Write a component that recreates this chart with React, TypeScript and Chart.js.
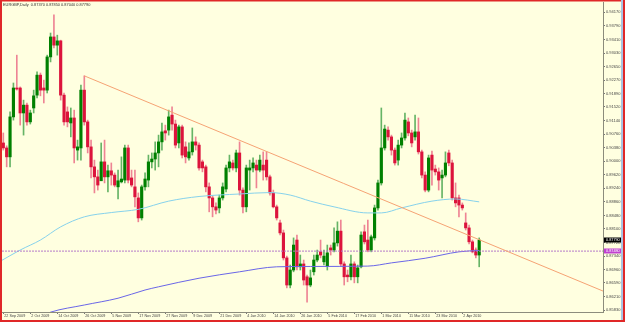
import React, { useEffect, useRef } from 'react';
import { Chart, registerables } from 'chart.js';
Chart.register(...registerables);

const symbolTitle = 'EURGBP,Daily';

const xTickLabels = ['22 Sep 2009', '2 Oct 2009', '14 Oct 2009', '26 Oct 2009', '5 Nov 2009', '17 Nov 2009', '27 Nov 2009', '9 Dec 2009', '21 Dec 2009', '4 Jan 2010', '14 Jan 2010', '26 Jan 2010', '5 Feb 2010', '17 Feb 2010', '1 Mar 2010', '11 Mar 2010', '23 Mar 2010', '2 Apr 2010'];
const xTickBars = [0, 8, 16, 24, 32, 40, 48, 56, 64, 72, 80, 88, 96, 104, 112, 120, 128, 136];

const yTickLabels = ['0.94170', '0.93790', '0.93410', '0.93030', '0.92650', '0.92270', '0.91890', '0.91520', '0.91140', '0.90760', '0.90380', '0.90000', '0.89620', '0.89240', '0.88860', '0.88480', '0.88100', '0.87720', '0.87340', '0.86960', '0.86590', '0.86210', '0.85830'];

const opens = [
  0.9051, 0.9037, 0.9012, 0.9124, 0.9205, 0.9205, 0.9135, 0.9157, 0.9110, 0.9149,
  0.9185, 0.9241, 0.9205, 0.9199, 0.9292, 0.9348, 0.9325, 0.9337, 0.9185, 0.9138,
  0.9107, 0.9121, 0.9031, 0.9037, 0.9199, 0.9110, 0.9040, 0.8984, 0.8956, 0.8945,
  0.8998, 0.8956, 0.8973, 0.8961, 0.8928, 0.8942, 0.8947, 0.9037, 0.8953, 0.8928,
  0.8897, 0.8841, 0.8928, 0.8947, 0.8998, 0.9006, 0.9023, 0.9054, 0.9085, 0.9087,
  0.9129, 0.9104, 0.9051, 0.9096, 0.9040, 0.9009, 0.9026, 0.9054, 0.9045, 0.8998,
  0.8984, 0.8928, 0.8897, 0.8872, 0.8869, 0.8897, 0.8922, 0.8981, 0.8995, 0.8981,
  0.9023, 0.8919, 0.8872, 0.8975, 0.8981, 0.8989, 0.8975, 0.8989, 0.9003, 0.8956,
  0.8911, 0.8872, 0.8827, 0.8799, 0.8729, 0.8653, 0.8695, 0.8779, 0.8704, 0.8712,
  0.8676, 0.8653, 0.8690, 0.8723, 0.8746, 0.8718, 0.8706, 0.8757, 0.8751, 0.8771,
  0.8804, 0.8712, 0.8681, 0.8676, 0.8712, 0.8676, 0.8704, 0.8802, 0.8779, 0.8751,
  0.8785, 0.8869, 0.8939, 0.9037, 0.9087, 0.9068, 0.9031, 0.9003, 0.9045, 0.9065,
  0.9110, 0.9079, 0.9068, 0.9082, 0.9026, 0.8961, 0.8919, 0.9017, 0.8978, 0.8970,
  0.8953, 0.8961, 0.9023, 0.8995, 0.8897, 0.8897, 0.8877, 0.8827, 0.8813, 0.8774,
  0.8751, 0.8737,
];
const highs = [
  0.9079, 0.9043, 0.9138, 0.9219, 0.9297, 0.9208, 0.9171, 0.9163, 0.9143, 0.9199,
  0.9250, 0.9247, 0.9227, 0.9297, 0.9359, 0.9410, 0.9353, 0.9339, 0.9191, 0.9152,
  0.9149, 0.9143, 0.9059, 0.9213, 0.9239, 0.9115, 0.9059, 0.9003, 0.8975, 0.9051,
  0.9059, 0.8989, 0.8995, 0.8967, 0.8975, 0.9012, 0.9045, 0.9045, 0.8975, 0.8975,
  0.8911, 0.8933, 0.8967, 0.9017, 0.9023, 0.9054, 0.9073, 0.9107, 0.9101, 0.9143,
  0.9152, 0.9115, 0.9101, 0.9101, 0.9054, 0.9051, 0.9093, 0.9068, 0.9051, 0.9003,
  0.8989, 0.8939, 0.8903, 0.8883, 0.8905, 0.8939, 0.8989, 0.9017, 0.9003, 0.9031,
  0.9054, 0.8925, 0.8989, 0.9003, 0.9009, 0.9003, 0.9017, 0.9026, 0.9026, 0.8961,
  0.8919, 0.8877, 0.8835, 0.8807, 0.8734, 0.8709, 0.8785, 0.8793, 0.8737, 0.8723,
  0.8681, 0.8695, 0.8737, 0.8751, 0.8779, 0.8751, 0.8765, 0.8765, 0.8813, 0.8830,
  0.8835, 0.8718, 0.8695, 0.8737, 0.8718, 0.8709, 0.8802, 0.8821, 0.8835, 0.8793,
  0.8877, 0.8947, 0.9149, 0.9101, 0.9096, 0.9073, 0.9037, 0.9059, 0.9079, 0.9135,
  0.9121, 0.9087, 0.9129, 0.9121, 0.9031, 0.8970, 0.9017, 0.9028, 0.8989, 0.8981,
  0.8975, 0.9026, 0.9031, 0.9003, 0.8939, 0.8905, 0.8883, 0.8855, 0.8821, 0.8779,
  0.8757, 0.8785,
];
const lows = [
  0.9031, 0.8984, 0.8984, 0.9115, 0.9199, 0.9101, 0.9073, 0.9101, 0.9104, 0.9135,
  0.9177, 0.9183, 0.9163, 0.9191, 0.9278, 0.9317, 0.9297, 0.9171, 0.9101, 0.9096,
  0.9068, 0.8995, 0.9003, 0.9003, 0.9101, 0.9023, 0.8953, 0.8911, 0.8919, 0.8947,
  0.8939, 0.8914, 0.8933, 0.8928, 0.8894, 0.8939, 0.8939, 0.8939, 0.8928, 0.8872,
  0.8830, 0.8835, 0.8919, 0.8928, 0.8981, 0.8975, 0.8984, 0.9031, 0.9059, 0.9073,
  0.9087, 0.9037, 0.9037, 0.9009, 0.8995, 0.9003, 0.9017, 0.9031, 0.8975, 0.8970,
  0.8914, 0.8858, 0.8844, 0.8852, 0.8855, 0.8891, 0.8914, 0.8970, 0.8975, 0.8970,
  0.8905, 0.8855, 0.8858, 0.8919, 0.8970, 0.8925, 0.8970, 0.8947, 0.8947, 0.8905,
  0.8869, 0.8835, 0.8793, 0.8723, 0.8645, 0.8645, 0.8690, 0.8695, 0.8695, 0.8653,
  0.8605, 0.8648, 0.8681, 0.8718, 0.8729, 0.8709, 0.8695, 0.8737, 0.8746, 0.8762,
  0.8706, 0.8653, 0.8662, 0.8667, 0.8659, 0.8659, 0.8701, 0.8768, 0.8746, 0.8746,
  0.8779, 0.8863, 0.8933, 0.9031, 0.9059, 0.9017, 0.8989, 0.8989, 0.9037, 0.9059,
  0.9071, 0.9040, 0.9059, 0.9020, 0.8953, 0.8914, 0.8914, 0.8933, 0.8961, 0.8919,
  0.8897, 0.8956, 0.8987, 0.8891, 0.8872, 0.8844, 0.8863, 0.8807, 0.8768, 0.8743,
  0.8729, 0.8704,
];
const closes = [
  0.9037, 0.9012, 0.9124, 0.9205, 0.9202, 0.9135, 0.9157, 0.9110, 0.9135, 0.9183,
  0.9241, 0.9199, 0.9199, 0.9292, 0.9348, 0.9325, 0.9337, 0.9185, 0.9110, 0.9110,
  0.9121, 0.9037, 0.9040, 0.9199, 0.9110, 0.9040, 0.8984, 0.8956, 0.8933, 0.8998,
  0.8956, 0.8973, 0.8961, 0.8933, 0.8945, 0.8950, 0.9037, 0.8947, 0.8933, 0.8900,
  0.8841, 0.8928, 0.8950, 0.8998, 0.9006, 0.9023, 0.9054, 0.9082, 0.9079, 0.9124,
  0.9104, 0.9045, 0.9096, 0.9017, 0.9012, 0.9026, 0.9054, 0.9045, 0.8981, 0.8981,
  0.8928, 0.8897, 0.8872, 0.8863, 0.8897, 0.8928, 0.8981, 0.8998, 0.8981, 0.9023,
  0.8919, 0.8872, 0.8981, 0.8981, 0.8995, 0.8975, 0.9003, 0.8975, 0.8956, 0.8911,
  0.8872, 0.8841, 0.8799, 0.8729, 0.8653, 0.8695, 0.8765, 0.8704, 0.8712, 0.8667,
  0.8653, 0.8673, 0.8723, 0.8737, 0.8737, 0.8734, 0.8743, 0.8751, 0.8771, 0.8804,
  0.8712, 0.8676, 0.8676, 0.8712, 0.8676, 0.8701, 0.8793, 0.8774, 0.8751, 0.8788,
  0.8869, 0.8939, 0.9037, 0.9090, 0.9068, 0.9031, 0.8995, 0.9045, 0.9065, 0.9115,
  0.9079, 0.9051, 0.9082, 0.9026, 0.8961, 0.8919, 0.9009, 0.8975, 0.8970, 0.8947,
  0.8961, 0.8995, 0.8995, 0.8897, 0.8883, 0.8877, 0.8869, 0.8813, 0.8774, 0.8746,
  0.8737, 0.8779,
];

// light-blue moving average
const maFastBars = [-1, 5, 11, 17, 24, 32, 40, 49, 58, 70, 79, 85, 91, 98, 108, 112, 118, 127, 134, 141];
const maFastValues = [0.8719, 0.8751, 0.8779, 0.8816, 0.8844, 0.8856, 0.8865, 0.8888, 0.8901, 0.8908, 0.8912, 0.8905, 0.8888, 0.8872, 0.8855, 0.8855, 0.8869, 0.8888, 0.8894, 0.8886];
// dark-blue moving average
const maSlowBars = [11, 14, 24, 34, 42, 46, 58, 70, 81, 91, 108, 115, 125, 135, 141];
const maSlowValues = [0.8565, 0.8577, 0.8597, 0.8616, 0.8639, 0.8648, 0.8672, 0.8690, 0.8704, 0.8705, 0.8706, 0.8715, 0.8728, 0.8746, 0.8750];
// trend line
const trendBars = [24, 177.7];
const trendValues = [0.9239, 0.8636];
// horizontal line
const hLineValue = 0.8748;

const X_MIN = -0.385;
const X_MAX = 177.68;
const Y_MIN = 0.85774;
const Y_MAX = 0.94459;

const BG = '#FFFFE0';
const BULL = '#008000';
const BEAR = '#DC143C';
const BULL_WICK = '#66B466';
const BEAR_WICK = '#EE8494';
const FONT = 'Liberation Sans, Arial, sans-serif';

export default function App() {
  const ref = useRef<HTMLCanvasElement>(null);
  useEffect(() => {
    document.body.style.margin = '0';
    const canvas = ref.current!;
    const idx = closes.map((_, i) => i);
    const up = idx.map((i) => closes[i] >= opens[i]);
    const last = closes.length - 1;

    const decorPlugin = {
      id: 'decor',
      beforeDraw(chart: any) {
        const ctx = chart.ctx;
        ctx.save();
        ctx.fillStyle = BG;
        ctx.fillRect(0, 0, chart.width, chart.height);
        ctx.restore();
      },
      afterDraw(chart: any) {
        const ctx = chart.ctx;
        const ys = chart.scales.y;
        const right = chart.chartArea.right;
        ctx.save();
        // price boxes
        const box = (val: number, fill: string, txt: string) => {
          const y = ys.getPixelForValue(val);
          ctx.fillStyle = fill;
          ctx.fillRect(right + 1, Math.round(y) - 2.5, 17, 5);
          ctx.fillStyle = '#ffffff';
          ctx.font = `3.8px ${FONT}`;
          ctx.textBaseline = 'middle';
          ctx.textAlign = 'left';
          ctx.fillText(txt, right + 3, Math.round(y));
        };
        box(closes[last], '#000000', closes[last].toFixed(5));
        box(hLineValue, '#C040D0', hLineValue.toFixed(5));
        // header
        ctx.fillStyle = '#333333';
        ctx.font = `3.9px ${FONT}`;
        ctx.textBaseline = 'middle';
        ctx.textAlign = 'left';
        ctx.fillText(
          `${symbolTitle}  ${opens[last].toFixed(5)} ${highs[last].toFixed(5)} ${lows[last].toFixed(5)} ${closes[last].toFixed(5)}`,
          3, 5
        );
        // frame
        ctx.fillStyle = '#E02828';
        ctx.fillRect(0, 0, chart.width, 1.5);
        ctx.fillRect(0, 0, 2, chart.height);
        ctx.fillRect(0, chart.height - 2, chart.width, 2);
        ctx.fillRect(chart.width - 2, 0, 2, chart.height);
        ctx.fillStyle = '#A8C4E4';
        ctx.fillRect(chart.width - 4, 0, 2, chart.height - 2);
        ctx.restore();
      },
    };

    const chart = new Chart(canvas, {
      type: 'bar',
      data: {
        datasets: [
          {
            type: 'line',
            data: trendBars.map((x, i) => ({ x, y: trendValues[i] })),
            borderColor: '#F6A374',
            borderWidth: 1,
            pointRadius: 0,
            order: 1,
          } as any,
          {
            type: 'line',
            data: [{ x: X_MIN, y: hLineValue }, { x: X_MAX, y: hLineValue }],
            borderColor: '#B47AC8',
            borderWidth: 1,
            borderDash: [2, 1],
            pointRadius: 0,
            order: 1,
          } as any,
          {
            type: 'line',
            data: maFastBars.map((x, i) => ({ x, y: maFastValues[i] })),
            borderColor: '#86D2EC',
            borderWidth: 1,
            pointRadius: 0,
            cubicInterpolationMode: 'monotone',
            order: 2,
          } as any,
          {
            type: 'line',
            data: maSlowBars.map((x, i) => ({ x, y: maSlowValues[i] })),
            borderColor: '#6A66E8',
            borderWidth: 1,
            pointRadius: 0,
            cubicInterpolationMode: 'monotone',
            order: 2,
          } as any,
          {
            type: 'bar',
            data: idx.map((i) => ({ x: i, y: [opens[i], closes[i]] })),
            backgroundColor: up.map((u) => (u ? BULL : BEAR)),
            borderWidth: 0,
            barThickness: 2.5,
            minBarLength: 1,
            grouped: false,
            order: 4,
          } as any,
          {
            type: 'bar',
            data: idx.map((i) => ({ x: i, y: [lows[i], highs[i]] })),
            backgroundColor: up.map((u) => (u ? BULL_WICK : BEAR_WICK)),
            borderWidth: 0,
            barThickness: 1,
            grouped: false,
            order: 5,
          } as any,
        ],
      },
      options: {
        responsive: false,
        animation: false,
        devicePixelRatio: 1,
        events: [],
        layout: { padding: { left: 2, top: 2, right: 0, bottom: 0 }, autoPadding: false },
        plugins: { legend: { display: false }, tooltip: { enabled: false } },
        scales: {
          x: {
            type: 'linear',
            min: X_MIN,
            max: X_MAX,
            offset: false,
            afterBuildTicks: (s: any) => {
              s.ticks = xTickBars.map((v) => ({ value: v }));
            },
            afterFit: (s: any) => {
              s.height = 10;
              s.paddingLeft = 0;
              s.paddingRight = 0;
            },
            grid: { display: true, drawOnChartArea: false, drawTicks: true, tickLength: 2, color: '#777777', offset: false },
            border: { display: true, color: '#8C8C7C', width: 1 },
            ticks: {
              autoSkip: false,
              maxRotation: 0,
              minRotation: 0,
              align: 'start',
              labelOffset: 1,
              padding: 0,
              color: '#444444',
              font: { family: FONT, size: 3.7 },
              callback: (_v: any, i: number) => xTickLabels[i],
            },
          } as any,
          y: {
            type: 'linear',
            position: 'right',
            min: Y_MIN,
            max: Y_MAX,
            beginAtZero: false,
            afterBuildTicks: (s: any) => {
              s.ticks = yTickLabels.map((t) => ({ value: parseFloat(t) }));
            },
            afterFit: (s: any) => {
              s.width = 22;
              s.paddingTop = 0;
              s.paddingBottom = 0;
            },
            grid: { display: true, drawOnChartArea: false, drawTicks: true, tickLength: 2, color: '#777777' },
            border: { display: true, color: '#8C8C7C', width: 1 },
            ticks: {
              padding: 1,
              color: '#444444',
              font: { family: FONT, size: 4 },
              callback: (_v: any, i: number) => yTickLabels[i],
            },
          } as any,
        },
      },
      plugins: [decorPlugin],
    });
    return () => chart.destroy();
  }, []);

  return (
    <div style={{ position: 'fixed', left: 0, top: 0, width: 625, height: 322 }}>
      <canvas ref={ref} width={625} height={322} style={{ display: 'block', width: 625, height: 322 }} />
    </div>
  );
}
